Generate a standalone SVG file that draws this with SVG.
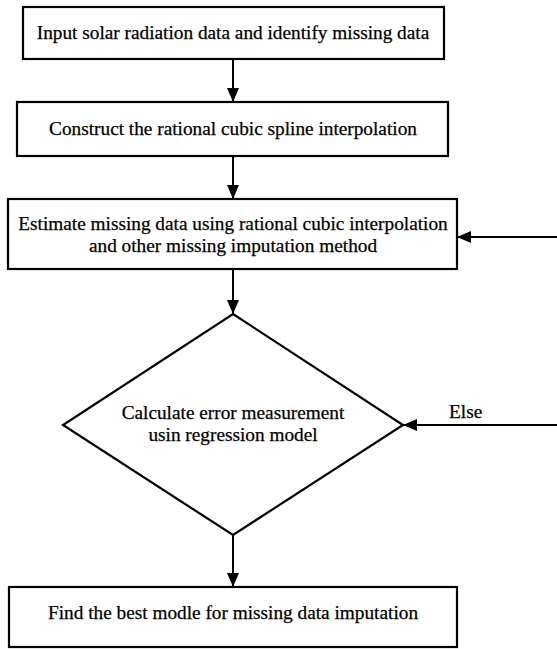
<svg xmlns="http://www.w3.org/2000/svg" width="557" height="649" viewBox="0 0 557 649">
<style>
.box{fill:#fff;stroke:#000;stroke-width:2.2}
.lbl{font-family:"Liberation Serif","Times New Roman",serif;font-size:19.3px;fill:#000;stroke:#000;stroke-width:0.25;text-anchor:middle}
.conn{stroke:#000;stroke-width:2;fill:none;marker-end:url(#ah)}
</style>
<defs>
<marker id="ah" markerUnits="userSpaceOnUse" markerWidth="14" markerHeight="12" refX="14" refY="6" orient="auto">
<path d="M0,0 L14,6 L0,12 z" fill="#000"/>
</marker>
</defs>
<rect width="557" height="649" fill="#fff"/>
<g id="connectors">
<line class="conn" x1="233" y1="59" x2="233" y2="102"/>
<line class="conn" x1="233" y1="156" x2="233" y2="199"/>
<line class="conn" x1="233" y1="269" x2="233" y2="314"/>
<line class="conn" x1="233" y1="535" x2="233" y2="587"/>
<line class="conn" x1="557" y1="237" x2="457" y2="237"/>
<line class="conn" x1="557" y1="425" x2="403" y2="425"/>
<text class="lbl" x="449" y="418" style="text-anchor:start">Else</text>
</g>
<g id="n1">
<rect class="box" x="23" y="7" width="421" height="52"/>
<text class="lbl" x="233" y="39">Input solar radiation data and identify missing data</text>
</g>
<g id="n2">
<rect class="box" x="17" y="102" width="431" height="54"/>
<text class="lbl" x="233" y="135">Construct the rational cubic spline interpolation</text>
</g>
<g id="n3">
<rect class="box" x="8" y="199" width="449" height="70"/>
<text class="lbl" x="233" y="230">Estimate missing data using rational cubic interpolation</text>
<text class="lbl" x="233" y="252">and other missing imputation method</text>
</g>
<g id="n4">
<polygon class="box" points="233,314 403,425 233,535 63,425"/>
<text class="lbl" x="233" y="419">Calculate error measurement</text>
<text class="lbl" x="233" y="441">usin regression model</text>
</g>
<g id="n5">
<rect class="box" x="9" y="587" width="448" height="60"/>
<text class="lbl" x="233" y="619">Find the best modle for missing data imputation</text>
</g>
</svg>
